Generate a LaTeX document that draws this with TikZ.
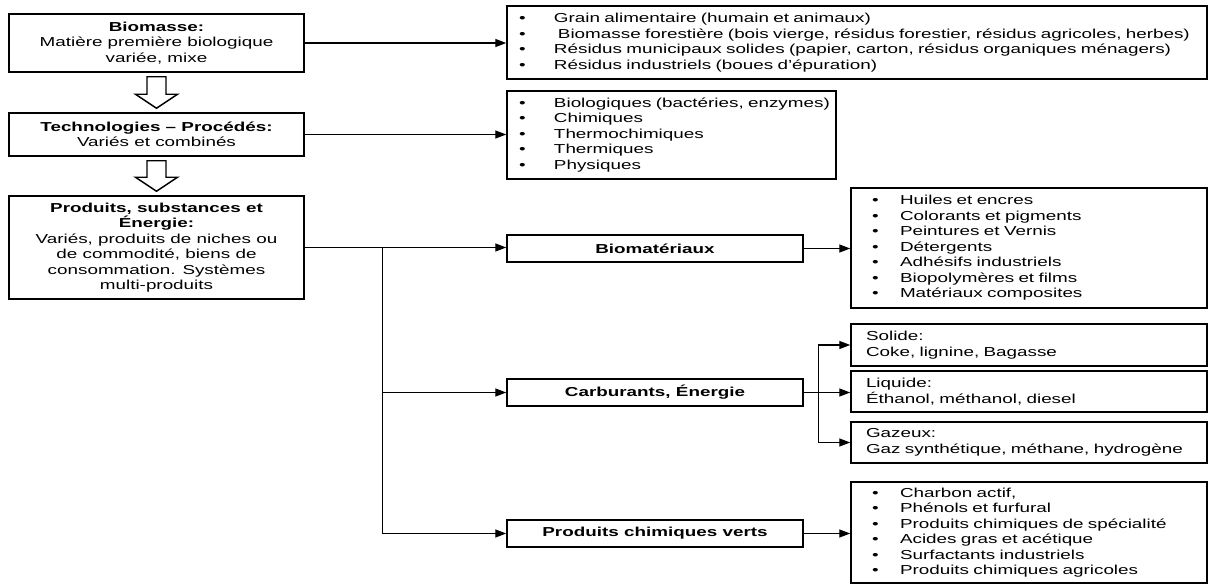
\documentclass[tikz,border=0pt]{standalone}
\usepackage{fontspec}
\setmainfont{Liberation Sans}[FakeStretch=1.45]
\usetikzlibrary{arrows.meta,calc}
\newcommand{\bul}[2][35pt]{\mbox{\makebox[#1][l]{•}#2}}
\begin{document}
\begin{tikzpicture}[x=1pt,y=-1pt,
  every node/.style={font=\fontsize{13}{15.5}\selectfont},
  box/.style={draw, line width=1.5pt, inner sep=0pt, align=center},
  lbox/.style={draw, line width=1.5pt, inner ysep=0pt, align=left},
  arr/.style={line width=1.4pt, -{Triangle[length=11pt,width=8pt]}},
  hollow/.style={draw, line width=1.4pt, fill=white, line join=miter}]
\useasboundingbox (0,0) rectangle (1209,585);

% left column
\node[box, minimum width=295, minimum height=58] (bio) at (156.5,43)
  {\textbf{Biomasse:}\\Matière première biologique\\variée, mixe};
\node[box, minimum width=295, minimum height=43] (tech) at (156.5,134.5)
  {\textbf{Technologies – Procédés:}\\Variés et combinés};
\node[box, minimum width=295, minimum height=103] (prod) at (156.5,247.5)
  {\textbf{Produits, substances et}\\\textbf{Énergie:}\\Variés, produits de niches ou\\de commodité, biens de\\consommation. Systèmes\\multi-produits};

% hollow arrows
\draw[hollow] ($(bio.south)+(-9.5,4)$) -- ($(bio.south)+(9.5,4)$) -- ($(tech.north)+(9.5,-18)$)
  -- ($(tech.north)+(21,-18)$) -- ($(tech.north)+(0,-4)$) -- ($(tech.north)+(-21,-18)$)
  -- ($(tech.north)+(-9.5,-18)$) -- cycle;
\draw[hollow] ($(tech.south)+(-9.5,4)$) -- ($(tech.south)+(9.5,4)$) -- ($(prod.north)+(9.5,-18)$)
  -- ($(prod.north)+(21,-18)$) -- ($(prod.north)+(0,-4)$) -- ($(prod.north)+(-21,-18)$)
  -- ($(prod.north)+(-9.5,-18)$) -- cycle;

% right lists
\node[lbox, minimum height=73, text width=676, inner xsep=12] (l1) at (857,42.5)
  {\bul{Grain alimentaire (humain et animaux)}\\
   \bul{\hspace{4pt}Biomasse forestière (bois vierge, résidus forestier, résidus agricoles, herbes)}\\
   \bul{Résidus municipaux solides (papier, carton, résidus organiques ménagers)}\\
   \bul{Résidus industriels (boues d’épuration)}};
\node[lbox, minimum height=88, text width=305, inner xsep=12] (l2) at (671.5,135)
  {\bul{Biologiques (bactéries, enzymes)}\\
   \bul{Chimiques}\\
   \bul{Thermochimiques}\\
   \bul{Thermiques}\\
   \bul{Physiques}};

% product categories
\node[box, minimum width=296, minimum height=27] (biomat) at (655,248.5) {\textbf{Biomatériaux}};
\node[box, minimum width=296, minimum height=27] (carb) at (655,392.5) {\textbf{Carburants, Énergie}};
\node[box, minimum width=296, minimum height=27] (pcv) at (655,533.5) {\textbf{Produits chimiques verts}};

\node[lbox, minimum height=120, text width=314, inner xsep=21] (blist) at (1029,248)
  {\bul[28pt]{Huiles et encres}\\
   \bul[28pt]{Colorants et pigments}\\
   \bul[28pt]{Peintures et Vernis}\\
   \bul[28pt]{Détergents}\\
   \bul[28pt]{Adhésifs industriels}\\
   \bul[28pt]{Biopolymères et films}\\
   \bul[28pt]{Matériaux composites}};

\node[lbox, minimum height=42, text width=326, inner xsep=15] (solide) at (1029,345)
  {Solide:\\Coke, lignine, Bagasse};
\node[lbox, minimum height=41, text width=326, inner xsep=15] (liquide) at (1029,391.5)
  {Liquide:\\Éthanol, méthanol, diesel};
\node[lbox, minimum height=41, text width=326, inner xsep=15] (gazeux) at (1029,442.5)
  {Gazeux:\\Gaz synthétique, méthane, hydrogène};

\node[lbox, minimum height=101, text width=314, inner xsep=21] (plist) at (1029,532.5)
  {\bul[28pt]{Charbon actif,}\\
   \bul[28pt]{Phénols et furfural}\\
   \bul[28pt]{Produits chimiques de spécialité}\\
   \bul[28pt]{Acides gras et acétique}\\
   \bul[28pt]{Surfactants industriels}\\
   \bul[28pt]{Produits chimiques agricoles}};

% connectors
\draw[arr] (bio.east) -- (bio.east -| l1.west);
\draw[arr] (tech.east) -- (tech.east -| l2.west);
\draw[arr] (prod.east) -- (prod.east -| biomat.west);
\path (prod.east) ++(78,0) coordinate (j);
\draw[arr] (j) |- (carb.west);
\draw[arr] (j) |- (pcv.west);
\draw[arr] (biomat.east) -- (biomat.east -| blist.west);
\draw[arr] (carb.east) -- (carb.east -| liquide.west);
\path (carb.east) ++(15,0) coordinate (br);
\draw[arr] (br) |- (solide.west);
\draw[arr] (br) |- (gazeux.west);
\draw[arr] (pcv.east) -- (pcv.east -| plist.west);
\end{tikzpicture}
\end{document}
